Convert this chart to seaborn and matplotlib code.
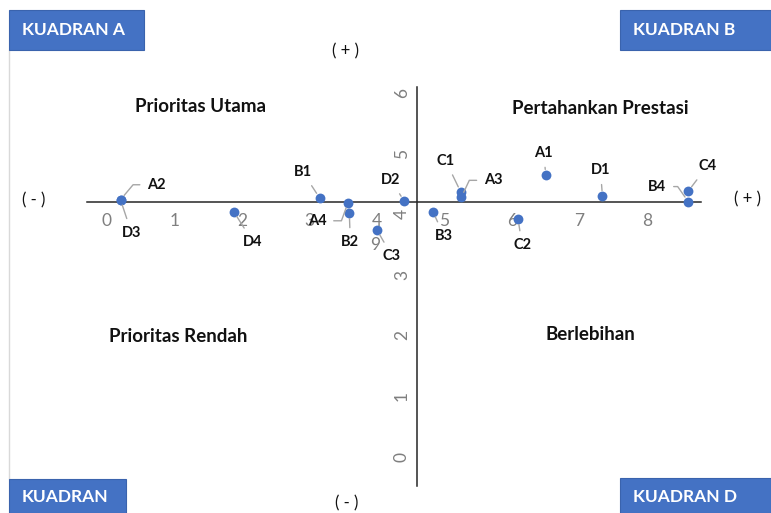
import matplotlib
matplotlib.use("Agg")
import matplotlib.pyplot as plt
from matplotlib.patches import Rectangle
from matplotlib.lines import Line2D
import seaborn as sns
import pandas as pd

# Attribute codes and their (performance, importance) scores
codes = ["A1", "A2", "A3", "A4", "B1", "B2", "B3", "B4",
         "C1", "C2", "C3", "C4", "D1", "D2", "D3", "D4"]
x_vals = [6.50, 0.20, 5.25, 3.57, 3.15, 3.59, 4.83, 8.61,
          5.24, 6.09, 4.00, 8.61, 7.34, 4.40, 0.20, 1.88]
y_vals = [4.65, 4.24, 4.28, 4.19, 4.27, 4.02, 4.04, 4.21,
          4.37, 3.92, 3.74, 4.38, 4.30, 4.22, 4.24, 4.04]

# Axis crossing (means) and axis tick labels
x_cross = 4.59
y_cross = 4.20
x_ticks = [0, 1, 2, 3, 4, 5, 6, 7, 8]
y_ticks = [0, 1, 2, 3, 4, 5, 6]

quadrant_titles = ["Prioritas Utama", "Pertahankan Prestasi",
                   "Prioritas Rendah", "Berlebihan"]
box_titles = ["KUADRAN A", "KUADRAN B", "KUADRAN", "KUADRAN D"]

# label placement: (dx, dy) in pixels from the point, optional elbow angle
label_offsets = {
    "A1": (-2, 22, None), "A2": (36, 15, 50), "A3": (32, 17, 65),
    "A4": (-31, -18, 70), "B1": (-17, 26, None), "B2": (1, -29, None),
    "B3": (11, -24, None), "B4": (-31, 15, -55), "C1": (-15, 31, None),
    "C2": (4, -26, None), "C3": (15, -26, None), "C4": (19, 25, None),
    "D1": (-2, 26, None), "D2": (-13, 21, None), "D3": (11, -33, None),
    "D4": (19, -30, None),
}

df = pd.DataFrame({"code": codes, "kinerja": x_vals, "kepentingan": y_vals})

sns.set_theme(style="white")
plt.rcParams["font.family"] = ["Lato", "DejaVu Sans"]

W, H = 771, 513
fig = plt.figure(figsize=(W / 100, H / 100), dpi=100)
ax = fig.add_axes([0, 0, 1, 1])
ax.set_facecolor("none")

# pixel scale of the plot: x 0 at 107 px, 67.5 px/unit; y 0 at 456.7 px, 60.6 px/unit
ax.set_xlim((0 - 107) / 67.5, (W - 107) / 67.5)
ax.set_ylim((456.7 - H) / 60.6, 456.7 / 60.6)

blue = "#4472C4"
sns.scatterplot(data=df, x="kinerja", y="kepentingan", ax=ax, s=50,
                color=blue, edgecolor=blue, linewidth=0, zorder=4)

for c, xv, yv in zip(codes, x_vals, y_vals):
    dx, dy, ang = label_offsets[c]
    if ang is None:
        cs = "arc3"
    else:
        cs = f"angle,angleA=0,angleB={ang},rad=0"
    ax.annotate(c, (xv, yv), xytext=(dx, dy), textcoords="offset pixels",
                ha="center", va="center", fontsize=10.5, fontweight="bold",
                color="#111111", zorder=5,
                arrowprops=dict(arrowstyle="-", color="#a6a6a6", lw=1.0,
                                shrinkA=3, shrinkB=4, connectionstyle=cs))

# axes crossing at the means
for s in ["top", "right"]:
    ax.spines[s].set_visible(False)
ax.spines["bottom"].set_position(("data", y_cross))
ax.spines["left"].set_position(("data", x_cross))
ax.spines["bottom"].set_bounds(-0.3, 8.8)
ax.spines["left"].set_bounds(-0.48, 6.1)
for s in ["bottom", "left"]:
    ax.spines[s].set_color("#262626")
    ax.spines[s].set_linewidth(1.1)
    ax.spines[s].set_zorder(3)

ax.set_xticks(x_ticks)
ax.set_yticks(y_ticks)
ax.set_xticklabels([str(t) for t in x_ticks])
ax.set_yticklabels([str(t) for t in y_ticks], rotation=90, va="center")
ax.tick_params(axis="x", length=0, pad=8, labelsize=12.5, labelcolor="#7f7f7f")
ax.tick_params(axis="y", length=0, pad=5, labelsize=12.5, labelcolor="#7f7f7f")
ax.set_xlabel("")
ax.set_ylabel("")
ax.text(3.97, 3.49, "9", ha="center", va="center", fontsize=12.5,
        color="#7f7f7f", zorder=2)


def px(x, y):
    return x / W, 1 - y / H


# frame edge on the left
fig.add_artist(Line2D([9 / W, 9 / W], [1 - 50 / H, 1 - 479 / H],
                      color="#d9d9d9", lw=1.0, transform=fig.transFigure))

# quadrant names
for t, (x, y) in zip(quadrant_titles, [(200, 106), (600, 108), (178, 336), (590, 334)]):
    fig.text(*px(x, y), t, ha="center", va="center", fontsize=13.5,
             fontweight="bold", color="#111111")

# direction signs
for t, (x, y) in zip(["( + )", "( - )", "( - )", "( + )"],
                     [(346, 51), (347, 503), (34, 200), (748, 199)]):
    fig.text(*px(x, y), t, ha="center", va="center", fontsize=12, color="#111111")

# corner boxes
boxes = [(9, 10, 144, 50), (620, 10, 771, 50), (9, 479, 126, 513), (620, 478, 771, 513)]
for t, (x0, y0, x1, y1) in zip(box_titles, boxes):
    fig.add_artist(Rectangle(px(x0, y1), (x1 - x0) / W, (y1 - y0) / H,
                             facecolor=blue, edgecolor="#3a63ad", lw=0.8,
                             transform=fig.transFigure, zorder=6))
    fig.text(*px(x0 + 13, (y0 + y1) / 2 if y1 < 100 else 497), t, ha="left",
             va="center", fontsize=12.5, fontweight="bold", color="white", zorder=7)

fig.savefig("out.png", dpi=100, facecolor="white")
